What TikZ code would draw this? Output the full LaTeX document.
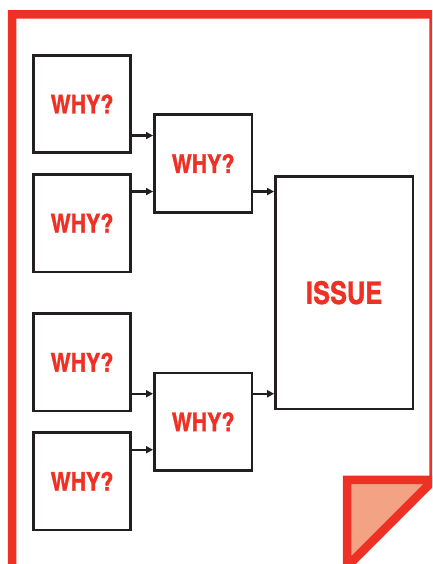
\documentclass[tikz,border=0pt]{standalone}
\usepackage{fontspec}
\newfontfamily\condfont{texgyreheroscn-bold.otf}[FakeBold=1.2]
\usetikzlibrary{arrows.meta,positioning,calc}
\definecolor{issuered}{HTML}{EE3124}
\definecolor{foldpink}{HTML}{F4A284}
\definecolor{boxline}{HTML}{231F20}

\begin{document}
\begin{tikzpicture}[
  x=1pt, y=1pt,
  node distance=19pt,
  whybox/.style={draw=boxline, line width=2.6pt, fill=white, minimum width=97.5pt,
    minimum height=97.5pt, inner sep=0pt, text=issuered,
    font=\condfont\fontsize{26}{26}\selectfont},
  issuebox/.style={whybox, minimum width=137.5pt, minimum height=232.5pt,
    font=\condfont\fontsize{31}{31}\selectfont},
  arr/.style={-{Triangle[length=7pt,width=7pt]}, draw=boxline, line width=2.4pt},
  pageline/.style={draw=issuered, line width=8.5pt, line join=miter}
]
\useasboundingbox (0,0) rectangle (432,564);
\clip (0,0) rectangle (432,564);
% page with folded corner
\draw[pageline] (12,-10) -- (12,549.5) -- (433.5,549.5) -- (433.5,84) -- (347,-2.5);
\filldraw[pageline, fill=foldpink] (347,84) -- (433.5,84) -- (347,-2.5) -- cycle;

% left column
\node[whybox] (why1) at (82,460) {WHY?};
\node[whybox, below=of why1] (why2) {WHY?};
\node[whybox, below=39pt of why2] (why3) {WHY?};
\node[whybox, below=of why3] (why4) {WHY?};

% middle column
\coordinate (c12) at ($(why1.east)!0.5!(why2.east)$);
\coordinate (c34) at ($(why3.east)!0.5!(why4.east)$);
\node[whybox, right=21pt of c12] (mid1) {WHY?};
\node[whybox, right=21pt of c34] (mid2) {WHY?};

% issue
\coordinate (cm) at ($(mid1.east)!0.5!(mid2.east)$);
\node[issuebox, right=21pt of cm] (issue) {ISSUE};

% arrow levels
\coordinate (in1) at ([yshift=28pt]mid1.west);
\coordinate (in2) at ([yshift=-28pt]mid1.west);
\coordinate (in3) at ([yshift=28pt]mid2.west);
\coordinate (in4) at ([yshift=-28pt]mid2.west);
\coordinate (out1) at ([yshift=-28pt]mid1.east);
\coordinate (out2) at ([yshift=28pt]mid2.east);

\draw[arr] (why1.east |- in1) -- (in1);
\draw[arr] (why2.east |- in2) -- (in2);
\draw[arr] (why3.east |- in3) -- (in3);
\draw[arr] (why4.east |- in4) -- (in4);
\draw[arr] (out1) -- (issue.west |- out1);
\draw[arr] (out2) -- (issue.west |- out2);
\end{tikzpicture}
\end{document}
